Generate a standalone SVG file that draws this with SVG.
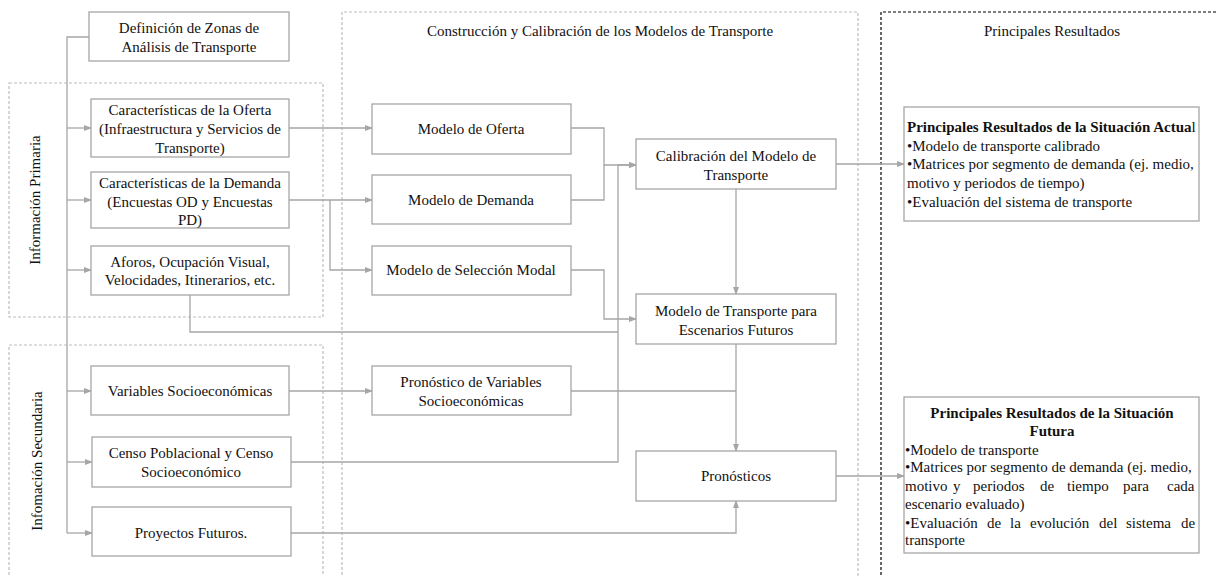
<svg xmlns="http://www.w3.org/2000/svg" width="1217" height="576" viewBox="0 0 1217 576">
<defs>
<marker id="ah" markerWidth="8" markerHeight="6" refX="7" refY="3" orient="auto" markerUnits="userSpaceOnUse">
<path d="M0,0 L8,3 L0,6 Z" fill="#a6a6a6"/>
</marker>
<style>
.box{fill:#fff;stroke:#a6a6a6;stroke-width:1.3}
.t{font-family:"Liberation Serif","Times New Roman",serif;font-size:15px;fill:#111}
.c{text-anchor:middle}
.b{font-weight:bold}
.con{fill:none;stroke:#a6a6a6;stroke-width:1.3}
.arr{marker-end:url(#ah)}
.dg{fill:none;stroke:#bdbdbd;stroke-width:1.2;stroke-dasharray:3,2}
.dk{fill:none;stroke:#000;stroke-width:1.2;stroke-dasharray:3,2}
</style>
</defs>
<rect width="1217" height="576" fill="#fff"/>

<g id="frames">
<rect class="dg" x="9" y="83" width="314" height="234"/>
<path class="dg" d="M9,580 V345 H323 V580"/>
<path class="dg" d="M342,580 V12 H858 V580"/>
<path class="dk" d="M881,580 V12 H1220"/>
<text class="t c" transform="translate(40,200) rotate(-90)">Información Primaria</text>
<text class="t c" transform="translate(42,461) rotate(-90)">Infomación Secundaria</text>
<text class="t c" x="600" y="36">Construcción y Calibración de los Modelos de Transporte</text>
<text class="t c" x="1052" y="36">Principales Resultados</text>
</g>

<g id="connectors">
<path class="con" d="M89,37 H67 V533"/>
<path class="con arr" d="M67,128 H91"/>
<path class="con arr" d="M67,200 H91"/>
<path class="con arr" d="M67,270 H91"/>
<path class="con arr" d="M67,391 H91"/>
<path class="con arr" d="M67,462 H92"/>
<path class="con arr" d="M67,533 H92"/>
<path class="con arr" d="M289,128 H372"/>
<path class="con arr" d="M289,200 H372"/>
<path class="con arr" d="M330,200 V270 H372"/>
<path class="con arr" d="M289,391 H372"/>
<path class="con" d="M190,295 V332 H618"/>
<path class="con arr" d="M291,462 H618 V165 H636"/>
<path class="con arr" d="M571,128 H604 V165 H636"/>
<path class="con" d="M571,200 H604 V165"/>
<path class="con arr" d="M571,270 H604 V319 H636"/>
<path class="con arr" d="M736,189 V294"/>
<path class="con arr" d="M736,344 V451"/>
<path class="con" d="M571,391 H736"/>
<path class="con arr" d="M291,533 H736 V501"/>
<path class="con arr" d="M836,164 H904"/>
<path class="con arr" d="M836,476 H904"/>
</g>

<g id="zonas">
<rect class="box" x="89" y="12" width="200" height="49"/>
<text class="t c" x="189" y="33">Definición de Zonas de</text>
<text class="t c" x="189" y="52">Análisis de Transporte</text>
</g>
<g id="oferta">
<rect class="box" x="91" y="99" width="198" height="58"/>
<text class="t c" x="190" y="115">Características de la Oferta</text>
<text class="t c" x="190" y="134">(Infraestructura y Servicios de</text>
<text class="t c" x="190" y="153">Transporte)</text>
</g>
<g id="demanda">
<rect class="box" x="91" y="172" width="198" height="56"/>
<text class="t c" x="190" y="188">Características de la Demanda</text>
<text class="t c" x="190" y="207">(Encuestas OD y Encuestas</text>
<text class="t c" x="190" y="225">PD)</text>
</g>
<g id="aforos">
<rect class="box" x="91" y="246" width="198" height="49"/>
<text class="t c" x="190" y="267">Aforos, Ocupación Visual,</text>
<text class="t c" x="190" y="285">Velocidades, Itinerarios, etc.</text>
</g>
<g id="variables">
<rect class="box" x="91" y="366" width="198" height="49"/>
<text class="t c" x="190" y="396">Variables Socioeconómicas</text>
</g>
<g id="censo">
<rect class="box" x="92" y="437" width="199" height="50"/>
<text class="t c" x="191" y="458">Censo Poblacional y Censo</text>
<text class="t c" x="191" y="477">Socioeconómico</text>
</g>
<g id="proyectos">
<rect class="box" x="92" y="507" width="199" height="49"/>
<text class="t c" x="191" y="538">Proyectos Futuros.</text>
</g>
<g id="modelo-oferta">
<rect class="box" x="372" y="104" width="199" height="50"/>
<text class="t c" x="471" y="134">Modelo de Oferta</text>
</g>
<g id="modelo-demanda">
<rect class="box" x="372" y="175" width="199" height="49"/>
<text class="t c" x="471" y="205">Modelo de Demanda</text>
</g>
<g id="seleccion-modal">
<rect class="box" x="372" y="246" width="199" height="49"/>
<text class="t c" x="471" y="275">Modelo de Selección Modal</text>
</g>
<g id="pronostico-variables">
<rect class="box" x="372" y="366" width="199" height="49"/>
<text class="t c" x="471" y="387">Pronóstico de Variables</text>
<text class="t c" x="471" y="406">Socioeconómicas</text>
</g>
<g id="calibracion">
<rect class="box" x="636" y="139" width="200" height="50"/>
<text class="t c" x="736" y="161">Calibración del Modelo de</text>
<text class="t c" x="736" y="180">Transporte</text>
</g>
<g id="futuros">
<rect class="box" x="636" y="294" width="200" height="50"/>
<text class="t c" x="736" y="316">Modelo de Transporte para</text>
<text class="t c" x="736" y="335">Escenarios Futuros</text>
</g>
<g id="pronosticos">
<rect class="box" x="636" y="451" width="200" height="50"/>
<text class="t c" x="736" y="481">Pronósticos</text>
</g>
<g id="resultados-actual">
<rect class="box" x="904" y="107" width="295" height="114"/>
<text class="t" x="907" y="132"><tspan class="b">Principales Resultados de la Situación Actua</tspan>l</text>
<text class="t" x="907" y="151">•Modelo de transporte calibrado</text>
<text class="t" x="907" y="169">•Matrices por segmento de demanda (ej. medio,</text>
<text class="t" x="907" y="188">motivo y periodos de tiempo)</text>
<text class="t" x="907" y="207">•Evaluación del sistema de transporte</text>
</g>
<g id="resultados-futura">
<rect class="box" x="904" y="397" width="295" height="156"/>
<text class="t c b" x="1052" y="418">Principales Resultados de la Situación</text>
<text class="t c b" x="1052" y="436">Futura</text>
<text class="t" x="905" y="455">•Modelo de transporte</text>
<text class="t" x="905" y="472">•Matrices por segmento de demanda (ej. medio,</text>
<text class="t" y="491"><tspan x="905">motivo</tspan><tspan x="953">y</tspan><tspan x="973">periodos</tspan><tspan x="1040">de</tspan><tspan x="1067">tiempo</tspan><tspan x="1123">para</tspan><tspan x="1167">cada</tspan></text>
<text class="t" x="905" y="509">escenario evaluado)</text>
<text class="t" y="528"><tspan x="905">•Evaluación</tspan><tspan x="987">de</tspan><tspan x="1010">la</tspan><tspan x="1030">evolución</tspan><tspan x="1099">del</tspan><tspan x="1126">sistema</tspan><tspan x="1181">de</tspan></text>
<text class="t" x="905" y="545">transporte</text>
</g>
</svg>
